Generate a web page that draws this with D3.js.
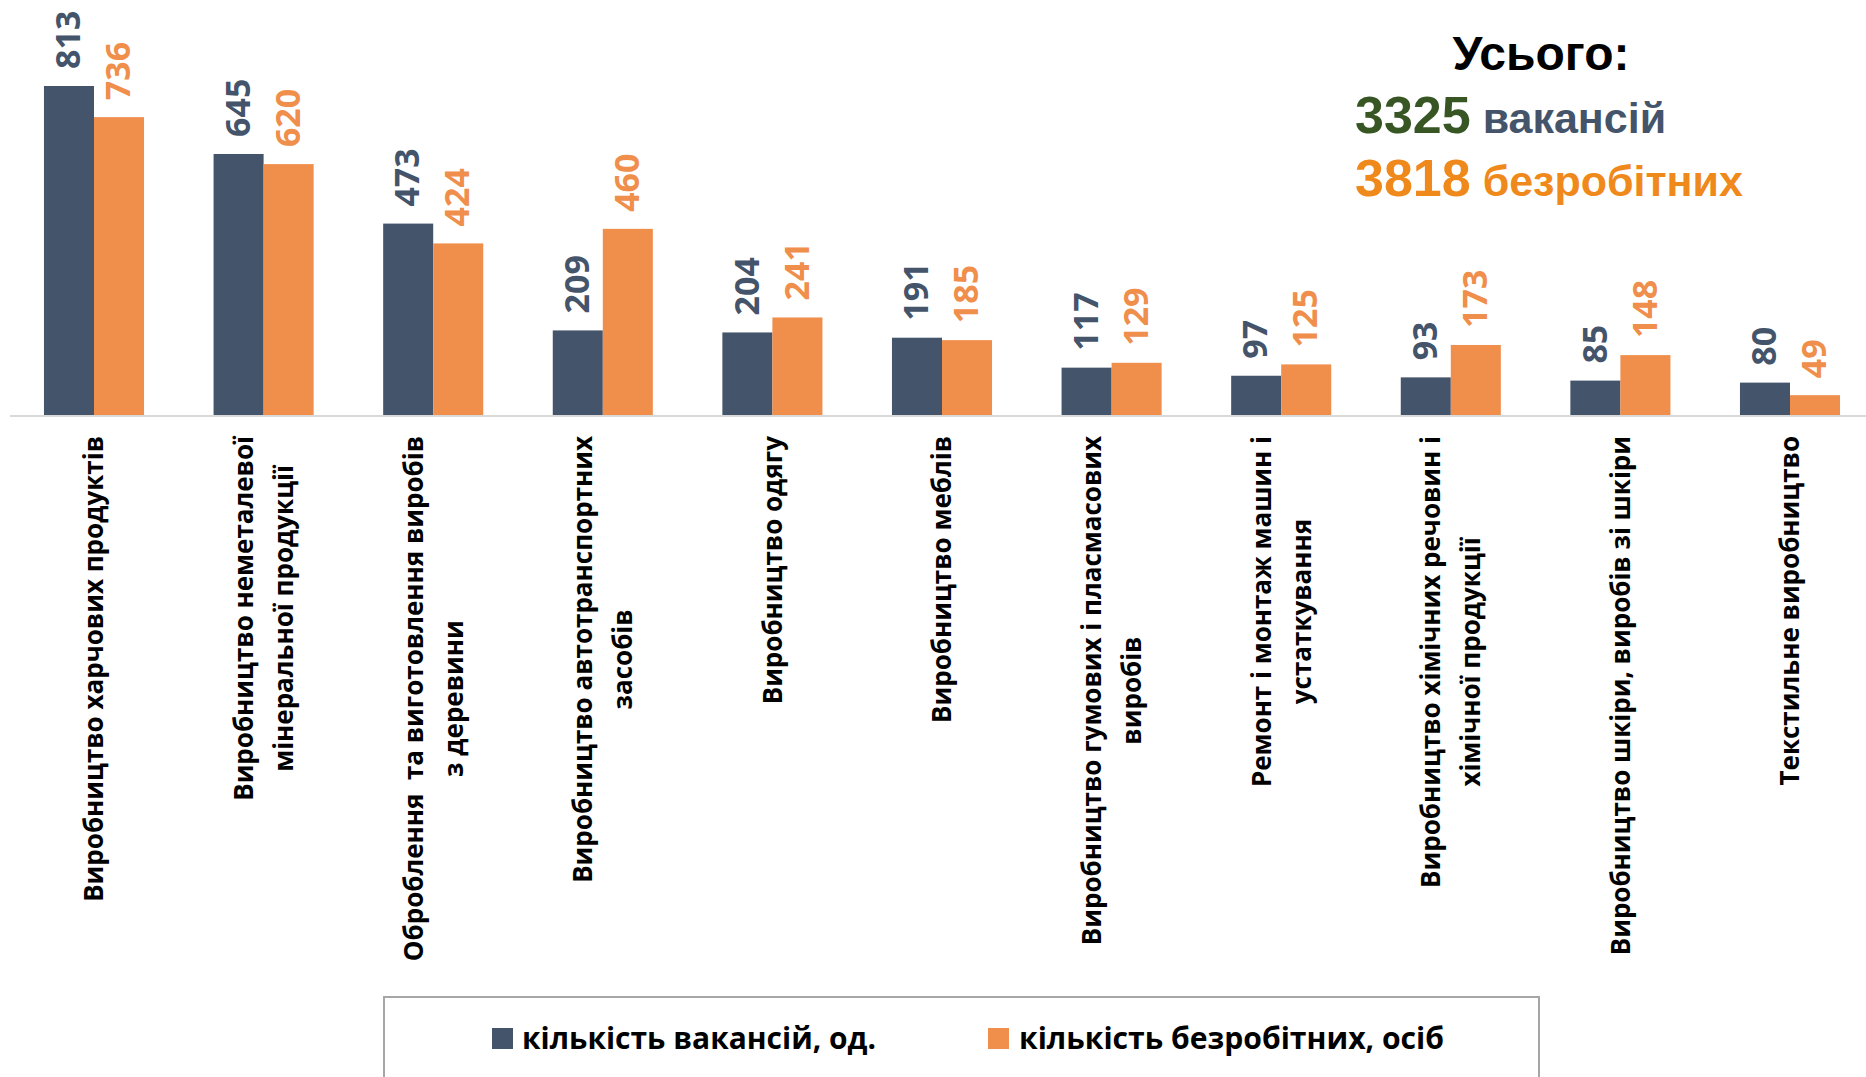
<!DOCTYPE html>
<html lang="uk">
<head>
<meta charset="utf-8">
<script src="https://cdn.jsdelivr.net/npm/d3@7"></script>
<style>
  body { margin: 0; background: #fff; }
  svg { display: block; }
</style>
</head>
<body>
<div id="chart"></div>
<script>
// Categories (line breaks as in the original picture)
const categories = [
    ["Виробництво харчових продуктів"],
    ["Виробництво неметалевої", "мінеральної продукції"],
    ["Оброблення  та виготовлення виробів", "з деревини"],
    ["Виробництво автотранспортних", "засобів"],
    ["Виробництво одягу"],
    ["Виробництво меблів"],
    ["Виробництво гумових і пласмасових", "виробів"],
    ["Ремонт і монтаж машин і", "устаткування"],
    ["Виробництво хімічних речовин і", "хімічної продукції"],
    ["Виробництво шкіри, виробів зі шкіри"],
    ["Текстильне виробництво"]
];

const vacancies = [813, 645, 473, 209, 204, 191, 117, 97, 93, 85, 80];
const unemployed = [736, 620, 424, 460, 241, 185, 129, 125, 173, 148, 49];

const seriesNames = ["кількість вакансій, од.", "кількість безробітних, осіб"];
const seriesColors = ["#44546a", "#f08e4b"];

const totalVacancies = 3325;
const totalUnemployed = 3818;

document.addEventListener("DOMContentLoaded", function () {
    const width = 1866;
    const height = 1077;
    const baseY = 415;
    const topY = 86;

    const data = categories.map((lines, i) => ({
        key: lines.join(" "),
        lines,
        values: [vacancies[i], unemployed[i]]
    }));

    const svg = d3.select("#chart")
        .append("svg")
        .attr("width", width)
        .attr("height", height);

    // Group scale and inner series scale
    const x0 = d3.scaleBand()
        .domain(data.map((d) => d.key))
        .range([9.2, 9.2 + 169.6 * data.length])
        .paddingInner(0.41)
        .paddingOuter(0.205);

    const x1 = d3.scaleBand()
        .domain([0, 1])
        .range([0, x0.bandwidth()]);

    const y = d3.scaleLinear()
        .domain([0, d3.max(vacancies.concat(unemployed))])
        .range([baseY, topY]);

    const groups = svg.selectAll(".group")
        .data(data)
        .enter()
        .append("g")
        .attr("class", "group")
        .attr("transform", (d) => `translate(${x0(d.key)},0)`);

    // Bars
    groups.selectAll("rect")
        .data((d) => d.values.map((v, s) => ({ v, s })))
        .enter()
        .append("rect")
        .attr("x", (d) => x1(d.s))
        .attr("y", (d) => y(d.v))
        .attr("width", x1.bandwidth())
        .attr("height", (d) => baseY - y(d.v))
        .attr("fill", (d) => seriesColors[d.s]);

    // Value labels, rotated
    groups.selectAll(".val")
        .data((d) => d.values.map((v, s) => ({ v, s })))
        .enter()
        .append("text")
        .attr("class", "val")
        .attr("transform", (d) => `translate(${x1(d.s) + x1.bandwidth() / 2 - 1},${y(d.v) - 17}) rotate(-90)`)
        .attr("dy", "0.36em")
        .attr("text-anchor", "start")
        .style("font-family", "'Open Sans', sans-serif")
        .style("font-weight", "bold")
        .style("font-size", "34px")
        .style("fill", (d) => seriesColors[d.s])
        .text((d) => d.v);

    // Baseline
    svg.append("line")
        .attr("x1", 10)
        .attr("x2", width)
        .attr("y1", baseY + 1)
        .attr("y2", baseY + 1)
        .attr("stroke", "#d9d9d9")
        .attr("stroke-width", 2);

    // Category labels, rotated, top aligned under the axis
    const labelTop = 436;
    const lineH = 40;
    data.forEach((d) => {
        const cx = x0(d.key) + x0.bandwidth() / 2;
        const g = svg.append("g")
            .attr("transform", `translate(${cx},${labelTop}) rotate(-90)`);
        const texts = d.lines.map((line, k) =>
            g.append("text")
                .attr("y", (k - (d.lines.length - 1) / 2) * lineH)
                .attr("dy", "0.36em")
                .attr("text-anchor", "middle")
                .style("white-space", "pre")
                .style("font-family", "'Open Sans', sans-serif")
                .style("font-weight", "bold")
                .style("font-size", "26px")
                .style("fill", "#000")
                .text(line)
        );
        const maxLen = d3.max(texts, (t) => t.node().getComputedTextLength());
        texts.forEach((t) => t.attr("x", -maxLen / 2));
    });

    // Legend
    svg.append("rect")
        .attr("x", 384)
        .attr("y", 997)
        .attr("width", 1155)
        .attr("height", 120)
        .attr("fill", "none")
        .attr("stroke", "#a6a6a6")
        .attr("stroke-width", 2);

    const legendItems = [
        { sx: 492, tx: 522, tw: 354 },
        { sx: 988, tx: 1019, tw: 425 }
    ];
    legendItems.forEach((it, s) => {
        svg.append("rect")
            .attr("x", it.sx)
            .attr("y", 1028)
            .attr("width", 21)
            .attr("height", 21)
            .attr("fill", seriesColors[s]);
        svg.append("text")
            .attr("x", it.tx)
            .attr("y", 1049)
            .attr("textLength", it.tw)
            .attr("lengthAdjust", "spacingAndGlyphs")
            .style("font-family", "'Open Sans', sans-serif")
            .style("font-weight", "bold")
            .style("font-size", "31px")
            .style("fill", "#000")
            .text(seriesNames[s]);
    });

    // Totals annotation
    const ann = svg.append("g")
        .style("font-family", "'Liberation Sans', Arial, sans-serif")
        .style("font-weight", "bold");

    ann.append("text")
        .attr("x", 1541)
        .attr("y", 70)
        .attr("text-anchor", "middle")
        .style("font-size", "48px")
        .style("fill", "#000")
        .text("Усього:");

    const t1 = ann.append("text").attr("x", 1355).attr("y", 133);
    t1.append("tspan").style("font-size", "52px").style("fill", "#375623").text(totalVacancies);
    t1.append("tspan").style("font-size", "43px").style("fill", "#44546a").text(" вакансій");

    const t2 = ann.append("text").attr("x", 1355).attr("y", 196);
    t2.append("tspan").style("font-size", "52px").style("fill", "#f0891b").text(totalUnemployed);
    t2.append("tspan").style("font-size", "43px").style("fill", "#f0891b").text(" безробітних");
});
</script>
</body>
</html>
